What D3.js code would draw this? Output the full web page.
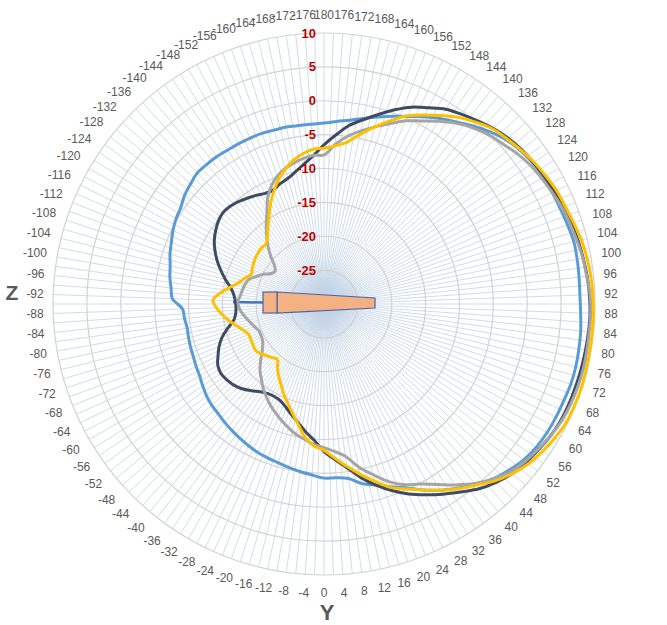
<!DOCTYPE html>
<html><head><meta charset="utf-8">
<script src="https://cdn.jsdelivr.net/npm/d3@7"></script>
<style>body{margin:0;background:#fff}svg{display:block}</style>
</head><body>
<svg id="chart" width="667" height="625"></svg>
<script>
// category angles (deg), 0 at bottom, positive to the right
const angles = [0,4,8,12,16,20,24,28,32,36,40,44,48,52,56,60,64,68,72,76,80,84,88,92,96,100,104,108,112,116,120,124,128,132,136,140,144,148,152,156,160,164,168,172,176,180,
 -176,-172,-168,-164,-160,-156,-152,-148,-144,-140,-136,-132,-128,-124,-120,-116,-112,-108,-104,-100,-96,-92,-88,-84,-80,-76,-72,-68,-64,-60,-56,-52,-48,-44,-40,-36,-32,-28,-24,-20,-16,-12,-8,-4];

const seriesBlue = [-4.3,-4.3,-4.0,-2.9,-2.2,-1.3,-0.3,1.1,2.4,3.6,4.8,5.9,6.7,7.4,7.8,8.0,8.1,8.15,8.3,8.3,8.2,8.1,7.9,7.8,7.85,7.95,8.0,7.8,7.6,7.5,7.4,7.2,6.8,6.2,5.3,4.3,3.2,2.3,1.3,0.3,-0.5,-1.3,-2.0,-2.6,-3.0,-3.3,
 -3.4,-3.4,-3.3,-3.3,-3.2,-3.2,-3.2,-3.2,-3.1,-3.1,-3.1,-3.5,-3.9,-4.5,-4.8,-5.2,-5.7,-6.1,-6.6,-6.9,-7.3,-7.6,-9.1,-9.3,-9.5,-9.4,-9.3,-9.2,-9.0,-8.8,-8.4,-8.0,-7.7,-7.5,-7.2,-6.9,-6.6,-6.3,-6.0,-5.8,-5.6,-5.3,-5.0,-4.7];

const seriesNavy = [-8.2,-7.0,-5.6,-3.8,-2.2,-0.7,0.7,1.9,3.1,4.3,5.6,6.6,7.4,7.9,8.3,8.7,8.95,9.05,9.1,9.15,9.2,9.25,9.3,9.2,9.05,8.85,8.65,8.4,8.1,7.8,7.6,7.3,7.0,6.6,6.0,5.3,4.6,3.9,2.8,1.8,0.5,-0.9,-2.2,-3.4,-5.0,-6.5,
 -8.0,-9.1,-10.0,-10.7,-11.1,-11.6,-11.5,-11.1,-10.7,-10.3,-10.0,-9.9,-10.2,-10.7,-11.3,-12.1,-13.0,-14.0,-15.0,-16.0,-16.6,-16.9,-17.0,-16.9,-16.5,-15.4,-14.2,-13.3,-12.6,-11.9,-11.65,-11.8,-12.1,-12.6,-13.3,-14.0,-14.4,-14.5,-14.3,-13.7,-12.9,-12.0,-10.9,-9.8];

const seriesGrey = [-8.8,-8.2,-7.3,-5.4,-3.8,-2.1,-0.8,0.1,1.4,3.0,4.6,5.9,7.0,7.7,8.2,8.7,9.1,9.3,9.4,9.45,9.4,9.35,9.4,9.3,9.0,8.8,8.5,8.2,7.9,7.5,7.1,6.7,6.1,5.4,4.8,4.0,3.0,1.8,0.6,-0.4,-1.7,-2.8,-3.9,-5.0,-6.4,-8.0,
 -8.0,-8.3,-8.7,-9.2,-9.9,-10.9,-12.3,-14.1,-15.5,-16.8,-18.1,-19.4,-20.7,-21.3,-21.0,-20.0,-19.2,-18.3,-18.0,-17.8,-17.6,-17.3,-17.4,-17.8,-18.3,-18.8,-19.2,-19.6,-19.6,-19.5,-19.1,-18.4,-17.4,-16.4,-15.6,-14.7,-13.9,-13.1,-12.4,-11.7,-11.0,-10.3,-9.8,-9.2];

const seriesGold = [-8.4,-7.2,-5.8,-4.3,-2.8,-1.2,-0.1,1.1,2.4,3.7,4.9,6.3,7.4,8.3,8.9,9.4,9.8,9.9,9.95,9.9,9.85,9.8,9.8,9.7,9.6,9.4,9.15,8.75,8.4,8.2,7.8,7.4,6.9,6.4,5.9,5.0,4.0,2.8,1.6,0.4,-1.2,-2.8,-4.4,-5.9,-6.6,-7.0,
 -7.1,-7.6,-8.3,-9.3,-10.4,-11.8,-13.2,-14.7,-15.95,-17.0,-17.7,-17.6,-17.7,-17.8,-18.0,-18.2,-18.4,-17.7,-17.0,-15.9,-14.6,-13.6,-14.1,-14.9,-15.8,-16.7,-17.5,-18.0,-18.0,-17.9,-17.8,-18.1,-18.6,-19.0,-19.3,-18.3,-17.4,-16.5,-15.4,-14.4,-13.2,-11.8,-10.1,-9.0];

const ringValues = [-25,-20,-15,-10,-5,0,5,10];
const ringLabels = ["-25","-20","-15","-10","-5","0","5","10"];
const seriesColors = ["#5b9bd5","#3d4b63","#a5a5a5","#ffc000"];

const svg = d3.select("#chart");
const cx = 324, cy = 304, R = 271;
const g = svg.append("g").attr("transform", `translate(${cx},${cy})`);

const r = d3.scaleLinear().domain([-30, 10]).range([0, R]);
// data angle (deg) -> d3 radial angle (rad, 0 at top, clockwise)
const ang = d3.scaleLinear().domain([0, 180]).range([Math.PI, 0]);

// soft glow where spokes converge
const defs = svg.append("defs");
const grad = defs.append("radialGradient").attr("id", "glow");
grad.append("stop").attr("offset", "0%").attr("stop-color", "#9dc3e6").attr("stop-opacity", 0.75);
grad.append("stop").attr("offset", "55%").attr("stop-color", "#bdd7ee").attr("stop-opacity", 0.35);
grad.append("stop").attr("offset", "100%").attr("stop-color", "#ffffff").attr("stop-opacity", 0);
g.append("circle").attr("cx", 0).attr("cy", -3).attr("r", 48).attr("fill", "url(#glow)");

// spokes every 2 degrees
const spokes = d3.range(-180, 180, 2);
g.append("g").selectAll("line").data(spokes).join("line")
  .attr("x1", 0).attr("y1", 0)
  .attr("x2", d => R * Math.sin(ang(d)))
  .attr("y2", d => -R * Math.cos(ang(d)))
  .attr("stroke", "#c3d3e4").attr("stroke-width", 0.8);

// rings
g.append("g").selectAll("circle").data(ringValues).join("circle")
  .attr("r", d => r(d)).attr("fill", "none")
  .attr("stroke", "#d2d2d2").attr("stroke-width", 1.2);

// antenna illustration (feed line + horn) in units of R
const u = R / 271;
g.append("line")
  .attr("x1", -91*u).attr("y1", -2*u).attr("x2", -61*u).attr("y2", -1.5*u)
  .attr("stroke", "#4472c4").attr("stroke-width", 2.5);

// series lines
const series = [seriesBlue, seriesNavy, seriesGrey, seriesGold];
const line = d3.lineRadial()
  .angle((d, i) => ang(angles[i]))
  .radius(d => r(d))
  .curve(d3.curveCatmullRomClosed.alpha(0.5));
g.append("g").selectAll("path").data(series).join("path")
  .attr("d", d => line(d))
  .attr("fill", "none")
  .attr("stroke", (d, i) => seriesColors[i])
  .attr("stroke-width", 3)
  .attr("stroke-linejoin", "round");

g.append("polygon")
  .attr("points", [[-47,-12],[51,-6],[51,4],[-47,9]].map(p => p.map(v => v*u).join(",")).join(" "))
  .attr("fill", "#f4b183").attr("stroke", "#4a64a8").attr("stroke-width", 1.2);
g.append("rect")
  .attr("x", -61*u).attr("y", -12*u).attr("width", 14*u).attr("height", 21*u)
  .attr("fill", "#f4b183").attr("stroke", "#4a64a8").attr("stroke-width", 1.2);

// ring value labels
g.append("g").selectAll("text").data(ringValues).join("text")
  .attr("x", -8).attr("y", d => -r(d))
  .attr("text-anchor", "end").attr("dominant-baseline", "central")
  .attr("font-family", "'Liberation Sans', Arial, sans-serif")
  .attr("font-size", 13).attr("font-weight", "bold")
  .attr("fill", "#c00000")
  .text((d, i) => ringLabels[i]);

// category labels
const catG = g.append("g");
angles.forEach(a => {
  const t = catG.append("text")
    .attr("text-anchor", "middle").attr("dominant-baseline", "central")
    .attr("font-family", "'Liberation Sans', Arial, sans-serif")
    .attr("font-size", 12).attr("fill", "#595959")
    .text(String(a));
  const bb = t.node().getBBox();
  const th = ang(a);
  const sx = Math.sin(th), sy = -Math.cos(th);
  const d = R + 9 + (bb.width / 2) * Math.abs(sx) + (bb.height / 2 + 2) * Math.abs(sy);
  t.attr("x", d * sx).attr("y", d * sy);
});

// axis letters
svg.append("text").attr("x", 12).attr("y", 292)
  .attr("text-anchor", "middle").attr("dominant-baseline", "central")
  .attr("font-family", "'Liberation Sans', Arial, sans-serif")
  .attr("font-size", 21).attr("font-weight", "bold").attr("fill", "#595959").text("Z");
svg.append("text").attr("x", 327).attr("y", 620)
  .attr("text-anchor", "middle")
  .attr("font-family", "'Liberation Sans', Arial, sans-serif")
  .attr("font-size", 22).attr("font-weight", "bold").attr("fill", "#595959").text("Y");
</script>
</body></html>
